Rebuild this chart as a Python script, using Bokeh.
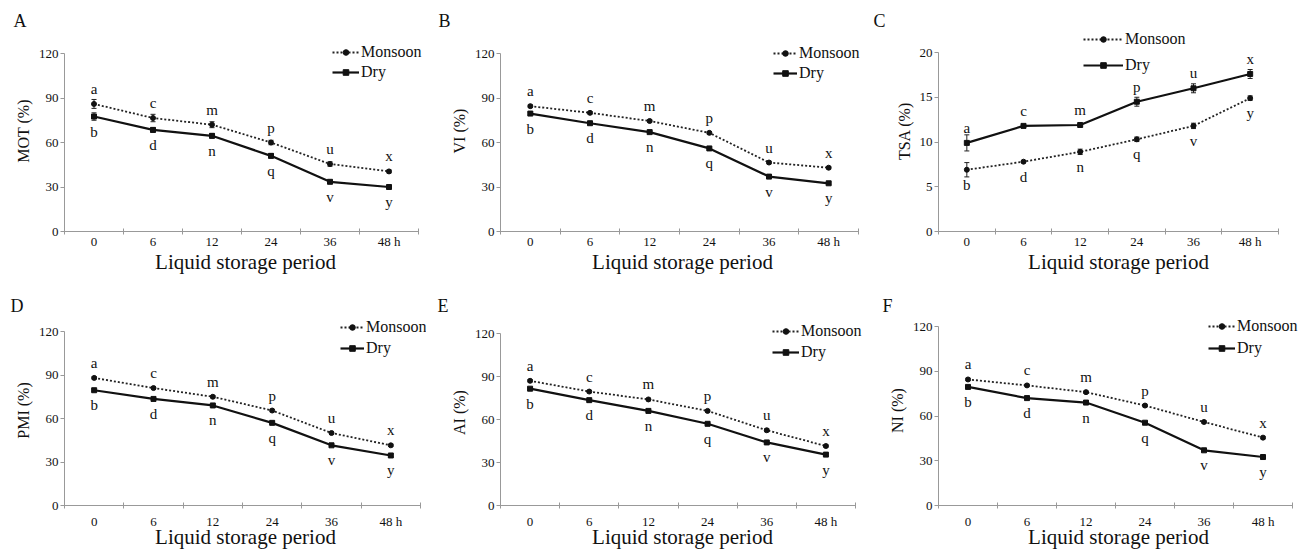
from bokeh.plotting import figure
from bokeh.models import (FixedTicker, Legend, LegendItem, Whisker, TeeHead,
                          ColumnDataSource, Range1d)
from bokeh.layouts import row, column
from bokeh.embed import file_html
from bokeh.resources import INLINE
from bokeh.core.properties import value

# ---------------- data ----------------
periods = ["0", "6", "12", "24", "36", "48 h"]
upper_letters = ["a", "c", "m", "p", "u", "x"]
lower_letters = ["b", "d", "n", "q", "v", "y"]

mot_monsoon = [86.0, 76.5, 72.0, 60.0, 45.5, 40.5]
mot_dry = [77.5, 68.5, 64.5, 51.0, 33.5, 30.0]
mot_monsoon_err = [3.0, 2.5, 2.0, 1.5, 1.5, 1.0]
mot_dry_err = [2.5, 1.5, 1.5, 1.5, 1.0, 1.0]

vi_monsoon = [84.5, 80.0, 74.5, 66.5, 46.5, 43.0]
vi_dry = [79.5, 73.0, 67.0, 56.0, 37.0, 32.5]
vi_monsoon_err = [0.8, 0.8, 0.8, 0.8, 0.8, 0.8]
vi_dry_err = [0.8, 0.8, 0.8, 0.8, 0.8, 0.8]

tsa_monsoon = [6.9, 7.8, 8.9, 10.3, 11.8, 14.9]
tsa_dry = [9.9, 11.8, 11.9, 14.5, 16.0, 17.6]
tsa_monsoon_err = [0.8, 0.1, 0.3, 0.25, 0.3, 0.25]
tsa_dry_err = [0.9, 0.1, 0.1, 0.5, 0.5, 0.5]

pmi_monsoon = [88.0, 81.0, 75.0, 65.5, 50.0, 41.5]
pmi_dry = [79.5, 73.5, 69.0, 57.0, 41.5, 34.5]
pmi_monsoon_err = [0.8, 0.8, 0.8, 0.8, 0.8, 0.8]
pmi_dry_err = [0.8, 0.8, 0.8, 0.8, 0.8, 0.8]

ai_monsoon = [87.0, 79.5, 74.0, 66.0, 52.5, 41.5]
ai_dry = [81.5, 73.5, 66.0, 57.0, 44.0, 35.5]
ai_monsoon_err = [0.8, 0.8, 0.8, 0.8, 1.0, 0.8]
ai_dry_err = [0.8, 0.8, 0.8, 0.8, 0.8, 0.8]

ni_monsoon = [84.5, 80.5, 76.0, 67.0, 56.0, 45.5]
ni_dry = [79.5, 72.0, 69.0, 55.5, 37.0, 32.5]
ni_monsoon_err = [0.8, 0.8, 0.8, 0.8, 0.8, 0.8]
ni_dry_err = [0.8, 0.8, 0.8, 0.8, 0.8, 0.8]

pct_ticks = [0, 30, 60, 90, 120]
tsa_ticks = [0, 5, 10, 15, 20]

FONT = value("Liberation Serif")
FONT_NAME = "Liberation Serif"
AXIS_GRAY = "#999999"
INK = "#111111"

# layout (pixels). Frames are aligned per row / column by Bokeh, so borders are shared:
# bt = frame top, bb = bottom border, extra = px of frame above the top tick,
# extra_r = px of frame right of the last category boundary,
# leg = (glyph x, row1 centre rel. top tick, spacing), s1/s2 = x tick / axis label standoffs
panels = [
    dict(tag="A", ylabel="MOT (%)", mon=mot_monsoon, dry=mot_dry, mon_e=mot_monsoon_err, dry_e=mot_dry_err,
         ticks=pct_ticks, w=434, h=279, bl=64, br=8, bt=30, bb=48, extra=23, extra_r=8,
         leg=(268, -1, 0), glyph_w=27, tleft=13, s1=-1, s2=-2),
    dict(tag="B", ylabel="VI (%)", mon=vi_monsoon, dry=vi_dry, mon_e=vi_monsoon_err, dry_e=vi_dry_err,
         ticks=pct_ticks, w=434, h=279, bl=66, br=4, bt=30, bb=48, extra=23, extra_r=6,
         leg=(273, 0, 0), glyph_w=24, tleft=4, s1=-1, s2=-2),
    dict(tag="C", ylabel="TSA (%)", mon=tsa_monsoon, dry=tsa_dry, mon_e=tsa_monsoon_err, dry_e=tsa_dry_err,
         ticks=tsa_ticks, w=435, h=279, bl=70, br=5, bt=30, bb=48, extra=22, extra_r=20,
         leg=(145, -13, 6), glyph_w=40, tleft=5, s1=-1, s2=-2),
    dict(tag="D", ylabel="PMI (%)", mon=pmi_monsoon, dry=pmi_dry, mon_e=pmi_monsoon_err, dry_e=pmi_dry_err,
         ticks=pct_ticks, w=434, h=278, bl=64, br=8, bt=36, bb=52, extra=16, extra_r=6,
         leg=(276, -4, 1), glyph_w=24, tleft=10, s1=5, s2=-7),
    dict(tag="E", ylabel="AI  (%)", mon=ai_monsoon, dry=ai_dry, mon_e=ai_monsoon_err, dry_e=ai_dry_err,
         ticks=pct_ticks, w=434, h=278, bl=66, br=4, bt=36, bb=52, extra=18, extra_r=9,
         leg=(272, -2, 1), glyph_w=27, tleft=3, s1=5, s2=-7),
    dict(tag="F", ylabel="NI (%)", mon=ni_monsoon, dry=ni_dry, mon_e=ni_monsoon_err, dry_e=ni_dry_err,
         ticks=pct_ticks, w=435, h=278, bl=70, br=5, bt=36, bb=52, extra=11, extra_r=6,
         leg=(270, 0, 2), glyph_w=27, tleft=14, s1=5, s2=-7),
]


def make_panel(cfg):
    n = len(periods)
    xs = list(range(n))
    top_tick = cfg["ticks"][-1]
    frame_h = cfg["h"] - cfg["bt"] - cfg["bb"]
    frame_w = cfg["w"] - cfg["bl"] - cfg["br"]
    y_end = top_tick * frame_h / (frame_h - cfg["extra"])
    x_end = (n - 0.5) + n * cfg["extra_r"] / (frame_w - cfg["extra_r"])
    p = figure(width=cfg["w"], height=cfg["h"], output_backend="svg", toolbar_location=None,
               x_range=Range1d(-0.5, x_end), y_range=Range1d(0, y_end),
               min_border_left=cfg["bl"], min_border_right=cfg["br"],
               min_border_top=cfg["bt"], min_border_bottom=cfg["bb"])
    p.outline_line_color = None
    p.grid.visible = False
    p.background_fill_color = "white"
    p.border_fill_color = "white"

    # panel letter
    p.title.text = cfg["tag"]
    p.title.align = "left"
    p.title.offset = -(cfg["bl"] - cfg["tleft"])
    p.title.standoff = 0
    p.title.text_font = FONT_NAME
    p.title.text_font_size = "18px"
    p.title.text_font_style = "normal"
    p.title.text_color = INK

    # x axis: labels at category centres, small ticks at category boundaries
    xa = p.xaxis[0]
    xa.ticker = FixedTicker(ticks=xs, minor_ticks=[i - 0.5 for i in range(n + 1)])
    xa.bounds = (-0.5, n - 0.5)
    xa.major_label_overrides = {i: periods[i] for i in xs}
    xa.major_tick_line_color = None
    xa.major_tick_in = 0
    xa.major_tick_out = 0
    xa.minor_tick_line_color = AXIS_GRAY
    xa.minor_tick_line_width = 1
    xa.minor_tick_in = 3
    xa.minor_tick_out = 3
    xa.axis_line_color = AXIS_GRAY
    xa.major_label_text_font = FONT_NAME
    xa.major_label_text_font_size = "13px"
    xa.major_label_text_color = INK
    xa.major_label_standoff = cfg["s1"]
    xa.axis_label = "Liquid storage period"
    xa.axis_label_text_font = FONT_NAME
    xa.axis_label_text_font_size = "21px"
    xa.axis_label_text_font_style = "normal"
    xa.axis_label_text_color = INK
    xa.axis_label_standoff = cfg["s2"]

    ya = p.yaxis[0]
    ya.ticker = FixedTicker(ticks=cfg["ticks"])
    ya.bounds = (0, top_tick)
    ya.minor_tick_line_color = None
    ya.major_tick_line_color = AXIS_GRAY
    ya.major_tick_in = 0
    ya.major_tick_out = 4
    ya.axis_line_color = AXIS_GRAY
    ya.major_label_text_font = FONT_NAME
    ya.major_label_text_font_size = "13px"
    ya.major_label_text_color = INK
    ya.major_label_standoff = 2
    ya.axis_label = cfg["ylabel"]
    ya.axis_label_text_font = FONT_NAME
    ya.axis_label_text_font_size = "16px"
    ya.axis_label_text_font_style = "normal"
    ya.axis_label_text_color = INK
    ya.axis_label_standoff = 4

    mon, dry = cfg["mon"], cfg["dry"]
    src_m = ColumnDataSource(dict(x=xs, y=mon,
                                  lo=[v - e for v, e in zip(mon, cfg["mon_e"])],
                                  hi=[v + e for v, e in zip(mon, cfg["mon_e"])]))
    src_d = ColumnDataSource(dict(x=xs, y=dry,
                                  lo=[v - e for v, e in zip(dry, cfg["dry_e"])],
                                  hi=[v + e for v, e in zip(dry, cfg["dry_e"])]))

    for src in (src_m, src_d):
        w = Whisker(base="x", upper="hi", lower="lo", source=src, line_color="#222222", line_width=1,
                    upper_head=TeeHead(size=5, line_color="#222222", line_width=1),
                    lower_head=TeeHead(size=5, line_color="#222222", line_width=1))
        p.add_layout(w)

    lm = p.line("x", "y", source=src_m, line_color="#222222", line_width=1.8, line_dash="2 2")
    sm = p.scatter("x", "y", source=src_m, marker="circle", size=5, color=INK)
    ld = p.line("x", "y", source=src_d, line_color=INK, line_width=2.2)
    sd = p.scatter("x", "y", source=src_d, marker="square", size=5, color=INK)

    # significance letters above the upper and below the lower series
    top = [max(a, b) for a, b in zip(mon, dry)]
    bot = [min(a, b) for a, b in zip(mon, dry)]
    p.text(x=xs, y=top, text=upper_letters, text_font=FONT, text_font_size="15px",
           text_align="center", text_baseline="middle", y_offset=-15, text_color=INK)
    p.text(x=xs, y=bot, text=lower_letters, text_font=FONT, text_font_size="15px",
           text_align="center", text_baseline="middle", y_offset=15, text_color=INK)

    # legend (kept inside the frame, which reaches above the top tick)
    gx, r1, spacing = cfg["leg"]
    row_h = 20
    leg_h = 2 * row_h + spacing
    top_rel = cfg["extra"] + r1 - row_h / 2
    vy = frame_h - (top_rel + leg_h)
    legend = Legend(items=[LegendItem(label="Monsoon", renderers=[lm, sm]),
                           LegendItem(label="Dry", renderers=[ld, sd])],
                    location=(gx, vy), glyph_width=cfg["glyph_w"], glyph_height=14,
                    label_height=row_h, label_width=62, label_standoff=2, spacing=spacing,
                    padding=0, margin=0, border_line_color=None,
                    background_fill_alpha=0,
                    label_text_font=FONT_NAME, label_text_font_size="16px",
                    label_text_color=INK)
    p.add_layout(legend)
    return p


figs = [make_panel(c) for c in panels]
layout = column(row(*figs[:3]), row(*figs[3:]))

open("out.html", "w").write(file_html(layout, INLINE))
